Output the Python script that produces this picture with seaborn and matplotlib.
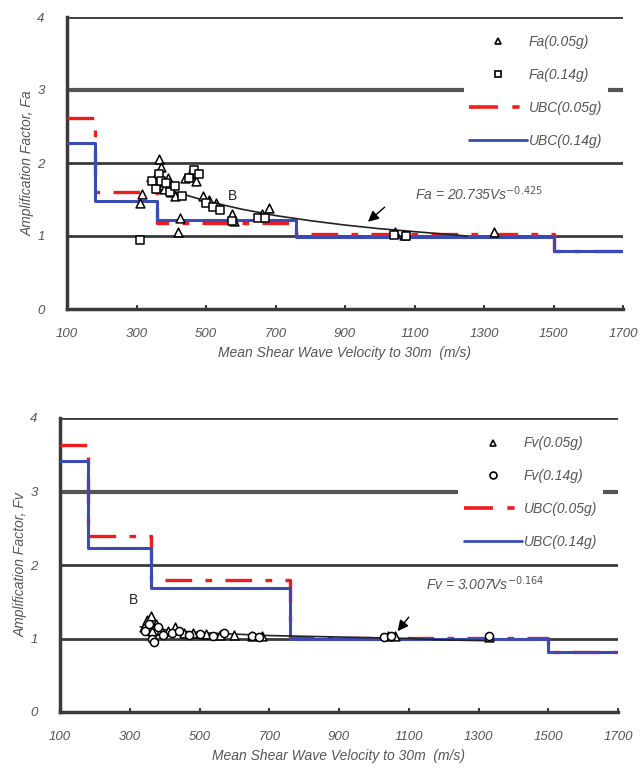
import numpy as np
import pandas as pd
import matplotlib
matplotlib.use("Agg")
import matplotlib.pyplot as plt
import seaborn as sns
from matplotlib.lines import Line2D

sns.set_theme(style="white")
plt.rcParams['font.family'] = ['Liberation Sans', 'DejaVu Sans']

# ---------------- data ----------------
x_ticks = [100, 300, 500, 700, 900, 1100, 1300, 1500, 1700]
y_ticks = [0, 1, 2, 3, 4]

ubc_vs = [100, 180, 360, 760, 1500, 1700]
fa_ubc005 = [2.62, 1.60, 1.18, 1.03, 0.80, 0.80]
fa_ubc014 = [2.28, 1.48, 1.22, 0.99, 0.80, 0.80]
fv_ubc005 = [3.63, 2.40, 1.79, 1.01, 0.82, 0.82]
fv_ubc014 = [3.42, 2.23, 1.69, 1.00, 0.82, 0.82]

fa005_vs = [310, 315, 355, 360, 365, 370, 375, 380, 390, 400, 410, 420, 425,
            440, 455, 470, 490, 510, 530, 575, 580, 660, 680, 1045, 1070, 1330]
fa005 = [1.45, 1.58, 1.75, 1.85, 2.05, 1.95, 1.70, 1.65, 1.80, 1.60, 1.55, 1.05,
         1.25, 1.80, 1.85, 1.75, 1.55, 1.50, 1.45, 1.30, 1.20, 1.30, 1.38,
         1.05, 1.02, 1.05]
fa014_vs = [310, 345, 355, 365, 370, 385, 395, 410, 430, 450, 465, 480, 500,
            520, 540, 575, 650, 670, 1040, 1075]
fa014 = [0.95, 1.75, 1.65, 1.85, 1.75, 1.72, 1.60, 1.68, 1.55, 1.80, 1.90, 1.85,
         1.45, 1.40, 1.35, 1.20, 1.25, 1.25, 1.02, 1.00]

fv005_vs = [340, 350, 360, 365, 375, 390, 410, 430, 455, 480, 520, 560, 600,
            650, 680, 1040, 1060, 1330]
fv005 = [1.15, 1.25, 1.30, 1.10, 1.20, 1.12, 1.10, 1.15, 1.08, 1.07, 1.06, 1.05,
         1.05, 1.03, 1.03, 1.03, 1.04, 1.02]
fv014_vs = [345, 355, 365, 370, 380, 395, 420, 440, 470, 500, 540, 570, 650,
            670, 1030, 1050, 1330]
fv014 = [1.10, 1.20, 1.00, 0.95, 1.15, 1.05, 1.08, 1.10, 1.05, 1.06, 1.04, 1.07,
         1.03, 1.02, 1.02, 1.03, 1.04]

fit_fa_vs = [330, 400, 500, 600, 700, 800, 900, 1000, 1100, 1250]
fit_fa = [1.75, 1.62, 1.48, 1.37, 1.28, 1.21, 1.15, 1.10, 1.06, 1.00]
fit_fv_vs = [330, 400, 500, 600, 700, 800, 900, 1000, 1100, 1200, 1330]
fit_fv = [1.16, 1.12, 1.08, 1.06, 1.04, 1.03, 1.02, 1.01, 1.00, 0.98, 0.97]

fa_eq = "Fa = 20.735Vs$^{-0.425}$"
fv_eq = "Fv = 3.007Vs$^{-0.164}$"

TXT = "#555555"
GRID = "#3a3a3a"
RED = "#ee1c1c"
BLUE = "#3b4bb5"
DASH = [8, 4, 2, 4]


def panel(ax, s005_vs, s005, s014_vs, s014, red, blue, fit_vs, fit, sym,
          m2, eq, eq_xy, arrow_tip, arrow_tail, b_xy, ylab):
    for y in [1, 2, 4]:
        ax.axhline(y, color=GRID, lw=2.0, zorder=1)
    ax.axhline(3, color="#555555", lw=3.0, zorder=1)

    df_red = pd.DataFrame({"v": ubc_vs, "f": red})
    df_blue = pd.DataFrame({"v": ubc_vs, "f": blue})
    sns.lineplot(data=df_red, x="v", y="f", ax=ax, color=RED, lw=2.4,
                 drawstyle="steps-post", estimator=None, sort=False, zorder=3,
                 legend=False)
    ax.lines[-1].set_dashes(DASH)
    sns.lineplot(data=df_blue, x="v", y="f", ax=ax, color=BLUE, lw=2.2,
                 drawstyle="steps-post", estimator=None, sort=False, zorder=4,
                 legend=False)

    df_fit = pd.DataFrame({"v": fit_vs, "f": fit})
    sns.lineplot(data=df_fit, x="v", y="f", ax=ax, color="#222222", lw=1.2,
                 estimator=None, sort=False, zorder=5, legend=False)

    sns.scatterplot(x=s005_vs, y=s005, ax=ax, marker="^", s=40,
                    facecolor="white", edgecolor="black", linewidth=1.1,
                    zorder=6)
    sns.scatterplot(x=s014_vs, y=s014, ax=ax, marker=m2, s=34,
                    facecolor="white", edgecolor="black", linewidth=1.1,
                    zorder=6)

    ax.text(b_xy[0], b_xy[1], "B", fontsize=10, color="#222222",
            ha="center", va="center", zorder=7)
    ax.text(eq_xy[0], eq_xy[1], eq, fontsize=10, style="italic",
            color=TXT, ha="left", va="center", zorder=7)
    ax.annotate("", xy=arrow_tip, xytext=arrow_tail,
                arrowprops=dict(arrowstyle="-|>", color="black", lw=1.0,
                                mutation_scale=16), zorder=7)

    handles = [
        Line2D([], [], ls="none", marker="^", ms=5, mfc="white",
               mec="black", mew=1.2),
        Line2D([], [], ls="none", marker=m2, ms=5, mfc="white",
               mec="black", mew=1.2),
        Line2D([], [], color=RED, lw=2.6, dashes=DASH),
        Line2D([], [], color=BLUE, lw=2.0),
    ]
    labels = [f"{sym}(0.05g)", f"{sym}(0.14g)", "UBC(0.05g)", "UBC(0.14g)"]
    leg = ax.legend(handles, labels, loc="upper right",
                    bbox_to_anchor=(0.985, 0.98), frameon=True,
                    facecolor="white", edgecolor="none", framealpha=1,
                    handlelength=4.2, handletextpad=0.1, labelspacing=1.35,
                    fontsize=10, borderpad=0.4)
    for t in leg.get_texts():
        t.set_style("italic")
        t.set_color(TXT)
    leg.set_zorder(8)

    ax.set_xlim(100, 1700)
    ax.set_ylim(0, 4)
    ax.set_xticks(x_ticks)
    ax.set_yticks(y_ticks)
    ax.set_xticklabels([str(t) for t in x_ticks], style="italic", color=TXT,
                       fontsize=9.5)
    ax.set_yticklabels([str(t) for t in y_ticks], style="italic", color=TXT,
                       fontsize=9.5)
    ax.tick_params(axis="x", direction="in", length=3, width=1.5,
                   color=GRID, pad=14, bottom=True)
    ax.tick_params(axis="y", length=0, pad=16)
    ax.set_xlabel("Mean Shear Wave Velocity to 30m  (m/s)", style="italic",
                  color=TXT, fontsize=10, labelpad=4)
    ax.set_ylabel(ylab, style="italic", color=TXT, fontsize=10, labelpad=2)
    for side in ["top", "right"]:
        ax.spines[side].set_visible(False)
    for side in ["left", "bottom"]:
        ax.spines[side].set_color(GRID)
        ax.spines[side].set_linewidth(2.5)


fig = plt.figure(figsize=(6.4, 7.75), dpi=100)
ax1 = fig.add_axes([67 / 640, 1 - 309 / 775, 556 / 640, 292 / 775])
ax2 = fig.add_axes([60 / 640, 1 - 712 / 775, 558 / 640, 294 / 775])

panel(ax1, fa005_vs, fa005, fa014_vs, fa014, fa_ubc005, fa_ubc014,
      fit_fa_vs, fit_fa, "Fa", "s", fa_eq, (1100, 1.58),
      (960, 1.17), (1020, 1.42), (575, 1.55), "Amplification Factor, Fa")
panel(ax2, fv005_vs, fv005, fv014_vs, fv014, fv_ubc005, fv_ubc014,
      fit_fv_vs, fit_fv, "Fv", "o", fv_eq, (1150, 1.75),
      (1063, 1.07), (1105, 1.32), (312, 1.52), "Amplification Factor, Fv")

fig.savefig("out.png", dpi=100)
